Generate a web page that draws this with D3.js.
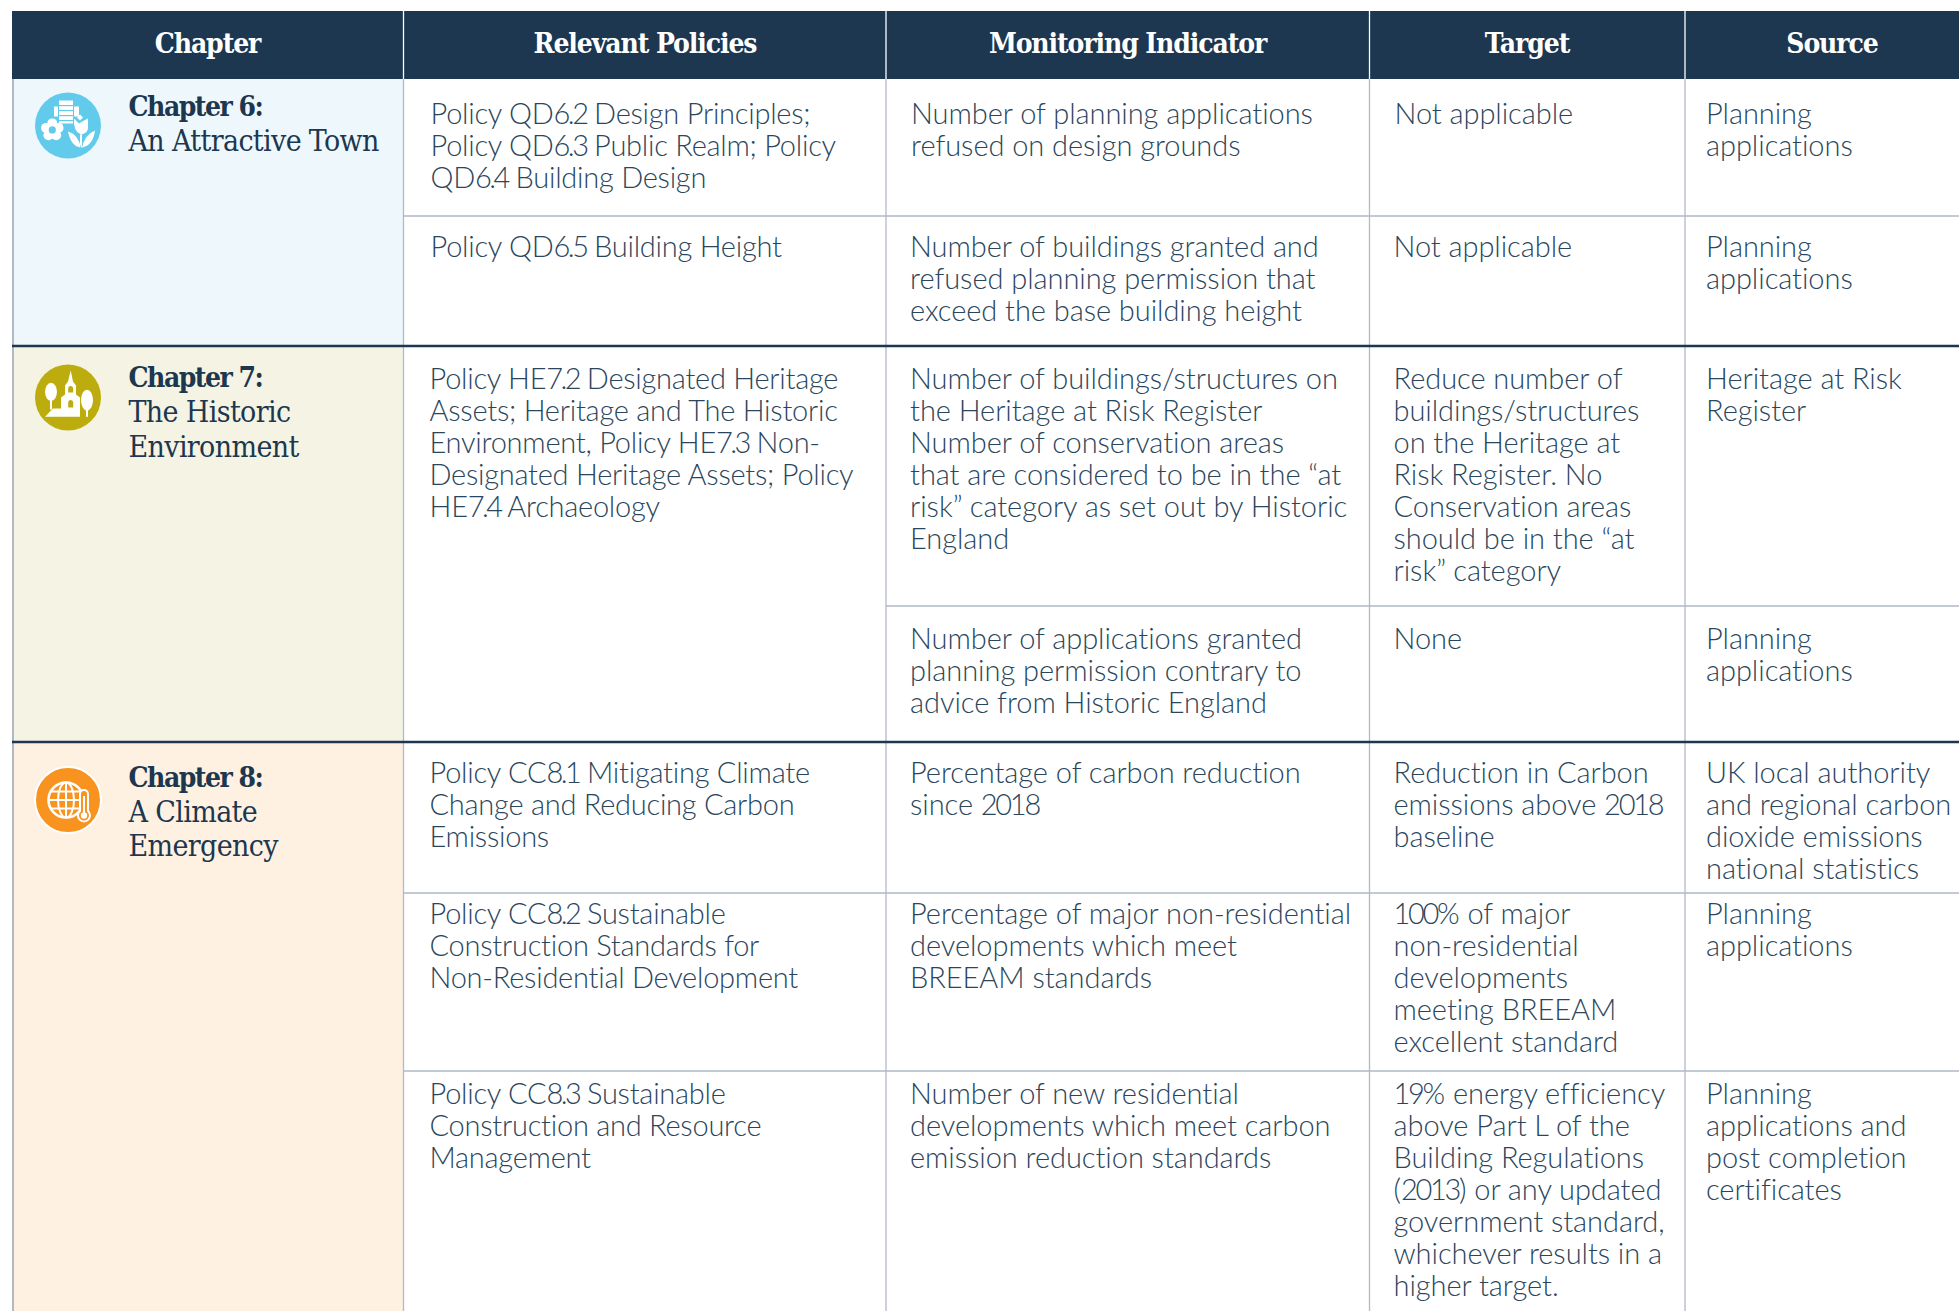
<!DOCTYPE html>
<html>
 <head>
    <meta charset="utf-8">
    <script src="https://d3js.org/d3.v7.min.js"></script>
    <style>
      body { margin: 0; background: #fff; }
      svg { display: block; }
      .body-text { font-family: Lato, "Open Sans", sans-serif; font-weight: 300; font-size: 29px; fill: #2a465c; letter-spacing: -0.05px; }
      .head-text { font-family: "DejaVu Serif Condensed", "DejaVu Serif", serif; font-weight: 700; font-size: 28px; fill: #fff; letter-spacing: -1.1px; text-anchor: middle; }
      .chap-text { font-family: "DejaVu Serif Condensed", "DejaVu Serif", serif; fill: #1c374f; }
      .chap-title { font-size: 28px; font-weight: 700; letter-spacing: -1.5px; }
      .chap-name { font-size: 30px; font-weight: 400; letter-spacing: -0.65px; }
    </style>
 </head>

 <body>
    <div id="my_table"></div>

<script>

  // table content
  var headers = ["Chapter", "Relevant Policies", "Monitoring Indicator", "Target", "Source"];

  var chapterTitles = ["Chapter 6:", "Chapter 7:", "Chapter 8:"];
  var chapterNames = [["An Attractive Town"], ["The Historic", "Environment"], ["A Climate", "Emergency"]];

  var policies = [
    ["Policy QD6.2 Design Principles;", "Policy QD6.3 Public Realm; Policy", "QD6.4 Building Design"],
    ["Policy QD6.5 Building Height"],
    ["Policy HE7.2 Designated Heritage", "Assets; Heritage and The Historic", "Environment, Policy HE7.3 Non-", "Designated Heritage Assets; Policy", "HE7.4 Archaeology"],
    [],
    ["Policy CC8.1 Mitigating Climate", "Change and Reducing Carbon", "Emissions"],
    ["Policy CC8.2 Sustainable", "Construction Standards for", "Non-Residential Development"],
    ["Policy CC8.3 Sustainable", "Construction and Resource", "Management"]
  ];
  var indicators = [
    ["Number of planning applications", "refused on design grounds"],
    ["Number of buildings granted and", "refused planning permission that", "exceed the base building height"],
    ["Number of buildings/structures on", "the Heritage at Risk Register", "Number of conservation areas", "that are considered to be in the “at", "risk” category as set out by Historic", "England"],
    ["Number of applications granted", "planning permission contrary to", "advice from Historic England"],
    ["Percentage of carbon reduction", "since 2018"],
    ["Percentage of major non-residential", "developments which meet", "BREEAM standards"],
    ["Number of new residential", "developments which meet carbon", "emission reduction standards"]
  ];
  var targets = [
    ["Not applicable"],
    ["Not applicable"],
    ["Reduce number of", "buildings/structures", "on the Heritage at", "Risk Register. No", "Conservation areas", "should be in the “at", "risk” category"],
    ["None"],
    ["Reduction in Carbon", "emissions above 2018", "baseline"],
    ["100% of major", "non-residential", "developments", "meeting BREEAM", "excellent standard"],
    ["19% energy efficiency", "above Part L of the", "Building Regulations", "(2013) or any updated", "government standard,", "whichever results in a", "higher target."]
  ];
  var sources = [
    ["Planning", "applications"],
    ["Planning", "applications"],
    ["Heritage at Risk", "Register"],
    ["Planning", "applications"],
    ["UK local authority", "and regional carbon", "dioxide emissions", "national statistics"],
    ["Planning", "applications"],
    ["Planning", "applications and", "post completion", "certificates"]
  ];

  // layout
  var width = 1959, height = 1311;
  var navy = "#1c374f", rule = "#b1b9c7";
  var chapterFills = ["#eef7fb", "#f5f4e4", "#fef1e2"];
  var iconFills = ["#62cbec", "#bdac0e", "#f8931f"];

  var rowIds = d3.range(policies.length);
  var x = d3.scaleOrdinal().domain(headers).range([12, 403.5, 886, 1369.5, 1685]);
  var rowTop = d3.scaleOrdinal().domain(rowIds).range([79, 216, 346, 606, 742, 893, 1071]);
  var rowBaseline = d3.scaleOrdinal().domain(rowIds).range([124, 257, 389, 649, 783, 924, 1104]);
  var chapterTop = d3.scaleOrdinal().domain([0, 1, 2]).range([79, 346, 742]);
  var chapterBottom = d3.scaleOrdinal().domain([0, 1, 2]).range([346, 742, height]);
  var iconY = d3.scaleOrdinal().domain([0, 1, 2]).range([125.6, 397.5, 800]);
  var titleY = d3.scaleOrdinal().domain([0, 1, 2]).range([115.7, 387, 786.7]);
  var lineH = 32;

  var svg = d3.select("#my_table")
    .append("svg")
      .attr("width", width)
      .attr("height", height);

  // chapter backgrounds
  svg.selectAll("rect.chap")
    .data(chapterTitles)
    .join("rect")
      .attr("class", "chap")
      .attr("x", x("Chapter"))
      .attr("y", function (d, i) { return chapterTop(i); })
      .attr("width", x("Relevant Policies") - x("Chapter"))
      .attr("height", function (d, i) { return chapterBottom(i) - chapterTop(i); })
      .attr("fill", function (d, i) { return chapterFills[i]; });

  // header band
  svg.append("rect")
    .attr("x", x("Chapter")).attr("y", 11)
    .attr("width", width - x("Chapter")).attr("height", 68)
    .attr("fill", navy);

  // vertical rules
  svg.selectAll("line.col")
    .data(headers)
    .join("line")
      .attr("class", "col")
      .attr("x1", function (d) { return d == "Chapter" ? 13 : x(d); })
      .attr("x2", function (d) { return d == "Chapter" ? 13 : x(d); })
      .attr("y1", 79)
      .attr("y2", height)
      .attr("stroke", rule)
      .attr("stroke-width", function (d) { return d == "Chapter" ? 2 : 1.3; });

  // white separators inside the header
  svg.selectAll("line.headsep")
    .data(headers.slice(1))
    .join("line")
      .attr("class", "headsep")
      .attr("x1", function (d) { return x(d); })
      .attr("x2", function (d) { return x(d); })
      .attr("y1", 11)
      .attr("y2", 79)
      .attr("stroke", "#fff")
      .attr("stroke-width", 1.3);

  // thin row rules: row 3 keeps the merged policy cell open
  svg.selectAll("line.row")
    .data([1, 3, 5, 6])
    .join("line")
      .attr("class", "row")
      .attr("x1", function (d) { return d == 3 ? x("Monitoring Indicator") : x("Relevant Policies"); })
      .attr("x2", width)
      .attr("y1", function (d) { return rowTop(d); })
      .attr("y2", function (d) { return rowTop(d); })
      .attr("stroke", rule)
      .attr("stroke-width", 1.5);

  // thick chapter rules
  svg.selectAll("line.thick")
    .data([1, 2])
    .join("line")
      .attr("class", "thick")
      .attr("x1", x("Chapter"))
      .attr("x2", width)
      .attr("y1", function (d) { return chapterTop(d); })
      .attr("y2", function (d) { return chapterTop(d); })
      .attr("stroke", navy)
      .attr("stroke-width", 2.5);

  // header labels
  var headCentre = d3.scaleOrdinal().domain(headers).range([207.5, 645, 1127.5, 1527, 1832]);
  svg.selectAll("text.head-text")
    .data(headers)
    .join("text")
      .attr("class", "head-text")
      .attr("x", function (d) { return headCentre(d); })
      .attr("y", 53)
      .text(function (d) { return d; });

  // body cells, the reference sets its figures much tighter than the words
  function drawColumn(name, cells, pad, spacing) {
    var g = svg.append("g").attr("class", "body-text").style("letter-spacing", spacing + "px");
    cells.forEach(function (lines, r) {
      g.selectAll(null)
        .data(lines)
        .join("text")
          .attr("x", x(name) + pad + (r == 0 && name != "Source" ? 1 : 0) + (r == 1 && name == "Relevant Policies" ? 1 : 0))
          .attr("y", function (d, i) { return rowBaseline(r) + i * lineH; })
          .each(function (d) {
            var t = d3.select(this);
            d.split(/(\d[\d.]*\d|\d)/).forEach(function (run) {
              if (!run) return;
              var span = t.append("tspan").text(run);
              if (/^\d/.test(run)) span.style("letter-spacing", run.indexOf(".") >= 0 ? "-2.5px" : "-2.3px");
            });
          });
    });
  }
  drawColumn("Relevant Policies", policies, 26, -0.25);
  drawColumn("Monitoring Indicator", indicators, 24, -0.05);
  drawColumn("Target", targets, 24, -0.05);
  drawColumn("Source", sources, 21, -0.05);

  // chapter labels
  chapterTitles.forEach(function (t, i) {
    var g = svg.append("g").attr("class", "chap-text");
    g.append("text")
      .attr("class", "chap-title")
      .attr("x", 128.5).attr("y", titleY(i))
      .text(t);
    g.selectAll(null)
      .data(chapterNames[i])
      .join("text")
        .attr("class", "chap-name")
        .attr("x", 128.5)
        .attr("y", function (d, j) { return titleY(i) + 35 + j * 34.5; })
        .text(function (d) { return d; });
  });

  // chapter icons
  var icons = svg.selectAll("g.icon")
    .data(chapterTitles)
    .join("g")
      .attr("class", "icon")
      .attr("transform", function (d, i) { return "translate(68," + iconY(i) + ")"; });

  icons.append("circle")
    .attr("r", 33)
    .attr("fill", function (d, i) { return iconFills[i]; });

  // town icon: block, flower, tulip
  var town = d3.select(icons.nodes()[0]).attr("fill", "#fff");
  town.append("path").attr("d", "M-9 -25H5V-2H-9Z M-14 -19H-10V-9H-14Z M6 -19H11V-9H6Z");
  town.selectAll(null).data([-20, -15, -10, -5]).join("line")
    .attr("x1", -9).attr("x2", 5)
    .attr("y1", function (d) { return d; }).attr("y2", function (d) { return d; })
    .attr("stroke", iconFills[0]).attr("stroke-width", 1.2);
  town.selectAll(null).data(d3.range(5)).join("circle")
    .attr("cx", function (d) { return -15.7 + 6.5 * Math.cos(d * 2 * Math.PI / 5 - 1.57); })
    .attr("cy", function (d) { return 4.3 + 6.5 * Math.sin(d * 2 * Math.PI / 5 - 1.57); })
    .attr("r", 5);
  town.append("circle").attr("cx", -15.7).attr("cy", 4.3).attr("r", 3.6).attr("fill", iconFills[0]);
  town.append("path").attr("d", "M6 -7L11 -2L16 -5L20 -7L20 3Q19 8 13 9Q5 6 6 -7Z M12 9V22H14V9Z M0 6Q10 9 13 22Q3 21 0 6Z M27 5Q17 9 14 22Q25 20 27 5Z");
  town.append("path").attr("d", "M12 -11L15 -8L12 -5L9 -8Z");

  // church icon: tower and two trees
  var church = d3.select(icons.nodes()[1]).attr("fill", "#fff");
  church.append("path").attr("d", "M2.7 -27L5 -16L8 -12V-3L12 0V19.3H-23L-15 11H-7V0L-3 -3V-12L0 -16Z");
  church.append("path").attr("d", "M0.2 -9a2.5 2.5 0 0 1 5 0V-5H0.2Z M0.2 5a2.5 2.5 0 0 1 5 0V10H0.2Z").attr("fill", iconFills[1]);
  church.append("ellipse").attr("cx", -17).attr("cy", -5.7).attr("rx", 6).attr("ry", 9);
  church.append("rect").attr("x", -18).attr("y", 0).attr("width", 2).attr("height", 12);
  church.append("ellipse").attr("cx", 19).attr("cy", 2.7).attr("rx", 6).attr("ry", 10.5);
  church.append("rect").attr("x", 18).attr("y", 8).attr("width", 2).attr("height", 11.3);

  // climate icon: globe and thermometer
  var climate = d3.select(icons.nodes()[2]).attr("fill", "none").attr("stroke", "#fff").attr("stroke-width", 2);
  climate.append("circle").attr("cx", -2).attr("cy", 0).attr("r", 17.5).attr("stroke-width", 2.6);
  climate.append("ellipse").attr("cx", -2).attr("cy", 0).attr("rx", 8).attr("ry", 17.5);
  climate.append("path").attr("d", "M-2 -17.5V17.5 M-19.5 0H15.5 M-17 -8.5H13 M-17 8.5H13");
  climate.append("path")
    .attr("d", "M12 -6a4 4 0 0 1 8 0V11a6 6 0 1 1 -8 0Z")
    .attr("fill", iconFills[2]).attr("stroke-width", 2);
  climate.append("circle").attr("cx", 16).attr("cy", 15.5).attr("r", 3.2).attr("fill", "#fff").attr("stroke", "none");
  climate.append("rect").attr("x", 15).attr("y", -4).attr("width", 2).attr("height", 18).attr("fill", "#fff").attr("stroke", "none");

</script>
 </body>
</html>
